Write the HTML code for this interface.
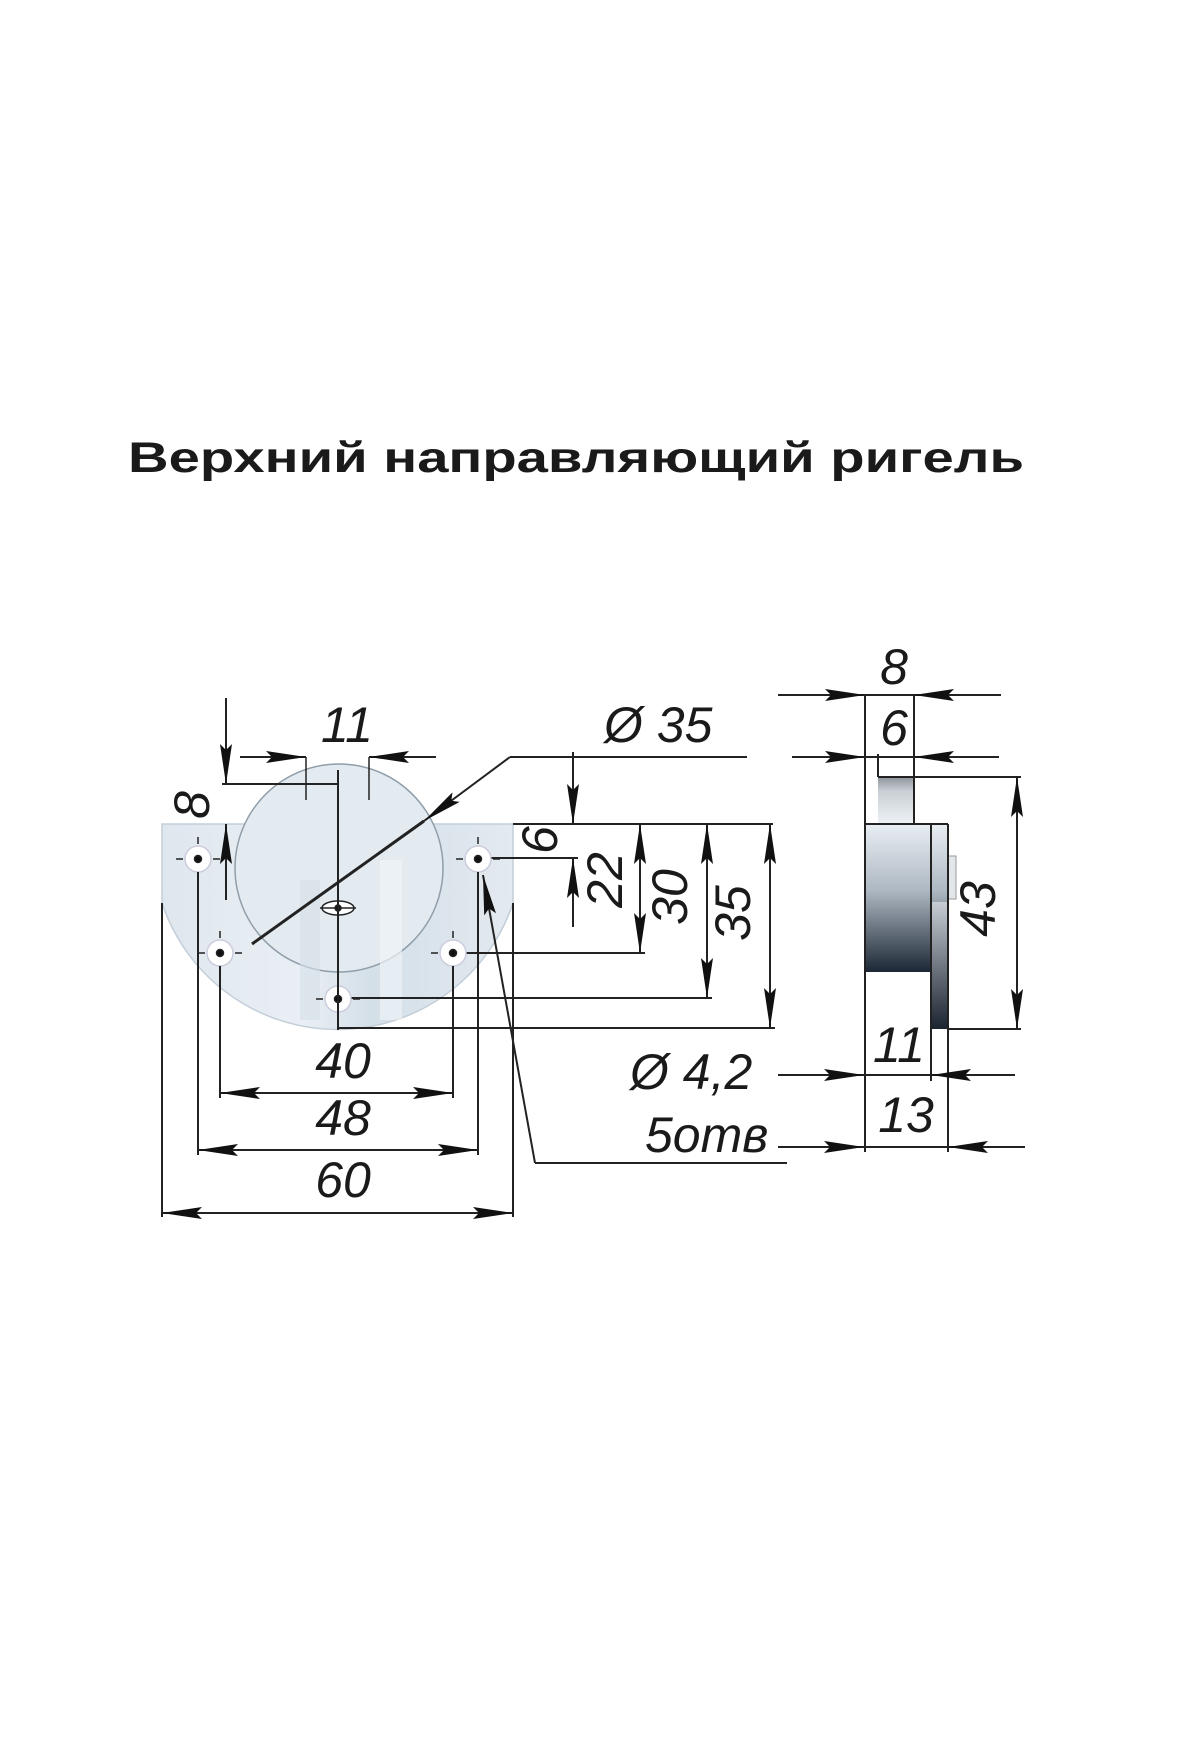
<!DOCTYPE html>
<html><head><meta charset="utf-8"><style>
html,body{margin:0;padding:0;background:#fff}
svg{display:block}
text{font-family:"Liberation Sans",sans-serif;fill:#1a1a1a}
.d{font-style:italic;font-size:50px}
</style></head><body>
<svg width="1200" height="1760" viewBox="0 0 1200 1760" xmlns="http://www.w3.org/2000/svg">
<defs>
<marker id="a" markerUnits="userSpaceOnUse" viewBox="0 0 40 12" markerWidth="40" markerHeight="12" refX="40" refY="6" orient="auto-start-reverse">
<path d="M0 0 L40 6 L0 12 L6 6 Z" fill="#111"/></marker>
<linearGradient id="pl" x1="0" x2="1" y1="0" y2="0">
<stop offset="0" stop-color="#dfe7ee"/><stop offset="0.4" stop-color="#e9eff4"/><stop offset="0.6" stop-color="#d4dfe8"/><stop offset="1" stop-color="#e3eaf0"/></linearGradient>
<linearGradient id="bd" x1="0" x2="0" y1="0" y2="1">
<stop offset="0" stop-color="#e8eef3"/><stop offset="0.45" stop-color="#aeb8c2"/><stop offset="1" stop-color="#1c2735"/></linearGradient>
<linearGradient id="st" x1="0" x2="0" y1="0" y2="1">
<stop offset="0" stop-color="#c7cdd3"/><stop offset="1" stop-color="#1a2330"/></linearGradient>
<linearGradient id="tb" x1="0" x2="0" y1="0" y2="1">
<stop offset="0" stop-color="#8d949a"/><stop offset="0.3" stop-color="#c9cfd4"/><stop offset="1" stop-color="#eef2f5"/></linearGradient>
</defs>

<text x="128" y="472" font-size="43" font-weight="bold" textLength="896" lengthAdjust="spacingAndGlyphs">Верхний направляющий ригель</text>

<!-- FRONT VIEW -->
<rect x="307" y="784" width="63" height="40" fill="#cfdbe5" stroke="#b8c4ce" stroke-width="1"/>
<path d="M162 824 H513 V903 A185 185 0 0 1 162 903 Z" fill="url(#pl)" stroke="#c3ced8" stroke-width="1.5"/>
<circle cx="339" cy="868" r="104" fill="#e3ebf1" stroke="#8f9ea9" stroke-width="1.5"/>
<rect x="300" y="880" width="20" height="140" fill="#d6e0e8" opacity="0.6"/>
<rect x="380" y="860" width="22" height="160" fill="#eef3f7" opacity="0.7"/>

<g stroke="#222" stroke-width="2" fill="none">
<!-- center lines -->
<line x1="338" y1="770" x2="338" y2="1030"/>
<!-- 8 dim -->
<line x1="226" y1="698" x2="226" y2="784" marker-end="url(#a)"/>
<line x1="226" y1="900" x2="226" y2="824" marker-end="url(#a)"/>
<line x1="222" y1="784" x2="338" y2="784"/>
<!-- 11 dim -->
<line x1="240" y1="757" x2="306" y2="757" marker-end="url(#a)"/>
<line x1="436" y1="757" x2="369" y2="757" marker-end="url(#a)"/>
<line x1="306" y1="757" x2="306" y2="800" stroke-width="1.5"/>
<line x1="369" y1="757" x2="369" y2="800" stroke-width="1.5"/>
<!-- Ø35 leader -->
<line x1="510" y1="757" x2="424" y2="821" marker-end="url(#a)"/>
<line x1="424" y1="821" x2="252" y2="944" stroke-width="3"/>
<line x1="510" y1="757" x2="747" y2="757"/>
<!-- 6 -->
<line x1="573" y1="752" x2="573" y2="824" marker-end="url(#a)"/>
<line x1="573" y1="927" x2="573" y2="858" marker-end="url(#a)"/>
<line x1="513" y1="824" x2="773" y2="824"/>
<line x1="490" y1="858" x2="578" y2="858"/>
<!-- 22 30 35 -->
<line x1="640" y1="824" x2="640" y2="953" marker-start="url(#a)" marker-end="url(#a)"/>
<line x1="465" y1="953" x2="645" y2="953"/>
<line x1="707" y1="824" x2="707" y2="998" marker-start="url(#a)" marker-end="url(#a)"/>
<line x1="350" y1="998" x2="712" y2="998"/>
<line x1="770" y1="824" x2="770" y2="1028" marker-start="url(#a)" marker-end="url(#a)"/>
<line x1="338" y1="1028" x2="775" y2="1028"/>
<!-- 40 48 60 -->
<line x1="220" y1="965" x2="220" y2="1098"/>
<line x1="453" y1="965" x2="453" y2="1098"/>
<line x1="220" y1="1093" x2="453" y2="1093" marker-start="url(#a)" marker-end="url(#a)"/>
<line x1="198" y1="870" x2="198" y2="1155"/>
<line x1="478" y1="870" x2="478" y2="1155"/>
<line x1="198" y1="1150" x2="478" y2="1150" marker-start="url(#a)" marker-end="url(#a)"/>
<line x1="162" y1="903" x2="162" y2="1217"/>
<line x1="513" y1="903" x2="513" y2="1217"/>
<line x1="162" y1="1213" x2="513" y2="1213" marker-start="url(#a)" marker-end="url(#a)"/>
<!-- Ø4,2 leader -->
<line x1="535" y1="1163" x2="483" y2="875" marker-end="url(#a)"/>
<line x1="535" y1="1163" x2="787" y2="1163"/>
</g>

<!-- holes -->
<g stroke="#222" stroke-width="1.5">
<g transform="translate(198,859)"><circle r="13" fill="#fff" stroke="#ccd"/><circle r="3.5" fill="#111"/><line x1="-22" y1="0" x2="-15" y2="0"/><line x1="15" y1="0" x2="22" y2="0"/><line x1="0" y1="-22" x2="0" y2="-15"/></g>
<g transform="translate(220,953)"><circle r="13" fill="#fff" stroke="#ccd"/><circle r="3.5" fill="#111"/><line x1="-22" y1="0" x2="-15" y2="0"/><line x1="15" y1="0" x2="22" y2="0"/><line x1="0" y1="-22" x2="0" y2="-15"/></g>
<g transform="translate(338,999)"><circle r="13" fill="#fff" stroke="#ccd"/><circle r="3.5" fill="#111"/><line x1="-22" y1="0" x2="-15" y2="0"/><line x1="15" y1="0" x2="22" y2="0"/></g>
<g transform="translate(453,953)"><circle r="13" fill="#fff" stroke="#ccd"/><circle r="3.5" fill="#111"/><line x1="-22" y1="0" x2="-15" y2="0"/><line x1="15" y1="0" x2="22" y2="0"/><line x1="0" y1="-22" x2="0" y2="-15"/></g>
<g transform="translate(478,859)"><circle r="13" fill="#fff" stroke="#ccd"/><circle r="3.5" fill="#111"/><line x1="-22" y1="0" x2="-15" y2="0"/><line x1="15" y1="0" x2="22" y2="0"/><line x1="0" y1="-22" x2="0" y2="-15"/></g>
<g transform="translate(338,908)"><ellipse rx="16" ry="7" fill="#fff" stroke="#222"/><line x1="-18" y1="0" x2="18" y2="0"/><circle r="3" fill="#111"/></g>
</g>
<g stroke="#222" stroke-width="2"><line x1="338" y1="880" x2="338" y2="1030"/><line x1="198" y1="872" x2="198" y2="940"/><line x1="220" y1="966" x2="220" y2="1000"/><line x1="478" y1="872" x2="478" y2="940"/><line x1="453" y1="966" x2="453" y2="1000"/></g>

<!-- front texts -->
<text class="d" x="347" y="742" text-anchor="middle">11</text>
<text class="d" x="192" y="805" text-anchor="middle" dominant-baseline="central" transform="rotate(-90 192 805)">8</text>
<text class="d" x="604" y="742">Ø 35</text>
<text class="d" x="540" y="840" text-anchor="middle" dominant-baseline="central" transform="rotate(-90 540 840)">6</text>
<text class="d" x="605" y="880" text-anchor="middle" dominant-baseline="central" transform="rotate(-90 605 880)">22</text>
<text class="d" x="670" y="897" text-anchor="middle" dominant-baseline="central" transform="rotate(-90 670 897)">30</text>
<text class="d" x="733" y="913" text-anchor="middle" dominant-baseline="central" transform="rotate(-90 733 913)">35</text>
<text class="d" x="343" y="1078" text-anchor="middle">40</text>
<text class="d" x="343" y="1135" text-anchor="middle">48</text>
<text class="d" x="343" y="1197" text-anchor="middle">60</text>
<text class="d" x="630" y="1089">Ø 4,2</text>
<text class="d" x="645" y="1152" font-size="44">5отв</text>

<!-- SIDE VIEW -->
<rect x="878" y="777" width="36" height="47" fill="url(#tb)"/>
<rect x="864" y="824" width="84" height="148" fill="url(#bd)"/>
<rect x="931" y="902" width="17" height="127" fill="url(#st)"/>
<rect x="948" y="856" width="8" height="43" fill="#e3e7ea" stroke="#999" stroke-width="1"/>
<g stroke="#222" stroke-width="2" fill="none">
<line x1="778" y1="695" x2="1001" y2="695"/>
<line x1="820" y1="695" x2="865" y2="695" marker-end="url(#a)"/>
<line x1="960" y1="695" x2="914" y2="695" marker-end="url(#a)"/>
<line x1="792" y1="757" x2="999" y2="757"/>
<line x1="820" y1="757" x2="865" y2="757" marker-end="url(#a)"/>
<line x1="960" y1="757" x2="914" y2="757" marker-end="url(#a)"/>
<line x1="865" y1="695" x2="865" y2="1152"/>
<line x1="914" y1="695" x2="914" y2="824"/>
<line x1="878" y1="754" x2="878" y2="777"/>
<line x1="878" y1="777" x2="1021" y2="777"/>
<line x1="864" y1="824" x2="948" y2="824"/>
<line x1="948" y1="824" x2="948" y2="1152"/>
<line x1="931" y1="824" x2="931" y2="1081"/>
<line x1="1017" y1="777" x2="1017" y2="1029" marker-start="url(#a)" marker-end="url(#a)"/>
<line x1="948" y1="1029" x2="1021" y2="1029"/>
<line x1="778" y1="1075" x2="1015" y2="1075"/>
<line x1="820" y1="1075" x2="864" y2="1075" marker-end="url(#a)"/>
<line x1="975" y1="1075" x2="931" y2="1075" marker-end="url(#a)"/>
<line x1="778" y1="1147" x2="1025" y2="1147"/>
<line x1="820" y1="1147" x2="864" y2="1147" marker-end="url(#a)"/>
<line x1="990" y1="1147" x2="948" y2="1147" marker-end="url(#a)"/>
</g>
<text class="d" x="894" y="684" text-anchor="middle">8</text>
<text class="d" x="894" y="745" text-anchor="middle">6</text>
<text class="d" x="978" y="909" text-anchor="middle" dominant-baseline="central" transform="rotate(-90 978 909)">43</text>
<text class="d" x="899" y="1062" text-anchor="middle">11</text>
<text class="d" x="906" y="1132" text-anchor="middle">13</text>
</svg>
</body></html>
